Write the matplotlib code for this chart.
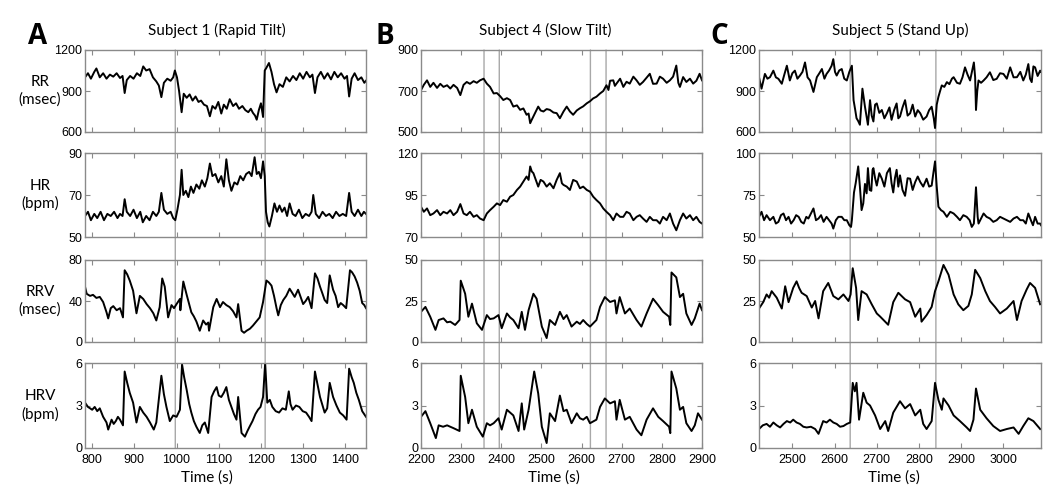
import numpy as np
import matplotlib.pyplot as plt
from matplotlib.patches import ConnectionPatch

# values: [time (s), value]

# Subject 1 (Rapid Tilt)
rr_a = [[783, 1000], [790, 1030], [797, 990], [805, 1040], [810, 1065], [818, 1000], [826, 1030],
        [834, 990], [842, 1020], [850, 1005], [858, 1030], [866, 995], [872, 1010], [877, 885],
        [882, 980], [890, 1010], [898, 990], [906, 1030], [914, 1010], [921, 1080], [928, 1050],
        [936, 1060], [944, 1000], [952, 970], [958, 940], [964, 855], [970, 960], [978, 990],
        [986, 975], [992, 1000], [996, 1050], [1001, 1000], [1006, 900], [1012, 745], [1017, 880],
        [1024, 850], [1031, 875], [1038, 830], [1045, 860], [1052, 820], [1058, 830], [1065, 800],
        [1072, 790], [1079, 715], [1085, 790], [1092, 770], [1099, 820], [1106, 735], [1112, 800],
        [1119, 770], [1126, 840], [1134, 790], [1141, 810], [1148, 770], [1156, 790], [1163, 760],
        [1170, 745], [1176, 770], [1181, 740], [1186, 720], [1190, 690], [1195, 760], [1200, 810],
        [1205, 710], [1209, 1050], [1213, 1070], [1219, 1105], [1225, 1040], [1231, 950],
        [1237, 890], [1244, 950], [1252, 930], [1260, 1000], [1268, 970], [1276, 1010],
        [1284, 980], [1292, 1030], [1300, 990], [1308, 1040], [1316, 1000], [1322, 1020],
        [1328, 885], [1334, 1000], [1342, 1040], [1350, 990], [1358, 1030], [1366, 985],
        [1374, 1040], [1382, 1000], [1390, 1030], [1398, 990], [1404, 1010], [1409, 860],
        [1415, 990], [1422, 1030], [1430, 980], [1438, 1000], [1445, 960], [1449, 975]]
hr_a = [[783, 60], [790, 62], [797, 58], [805, 61], [812, 59], [820, 62], [828, 58], [836, 61],
        [844, 60], [852, 62], [860, 59], [866, 61], [872, 60], [877, 68], [882, 62], [890, 60],
        [898, 63], [906, 59], [914, 62], [920, 57], [928, 60], [936, 58], [944, 62], [952, 60],
        [958, 62], [964, 71], [970, 63], [978, 61], [986, 62], [992, 59], [997, 58], [1002, 63],
        [1008, 70], [1012, 82], [1016, 70], [1022, 72], [1028, 69], [1034, 74], [1040, 71],
        [1047, 75], [1054, 73], [1060, 77], [1067, 74], [1073, 78], [1079, 85], [1085, 79],
        [1092, 80], [1099, 76], [1106, 79], [1112, 74], [1118, 87], [1124, 77], [1130, 72],
        [1137, 76], [1144, 75], [1151, 79], [1158, 77], [1165, 80], [1172, 81], [1178, 79],
        [1185, 88], [1190, 80], [1195, 81], [1200, 78], [1205, 86], [1209, 79], [1212, 62],
        [1216, 57], [1220, 55], [1226, 60], [1232, 66], [1238, 62], [1244, 65], [1250, 62],
        [1256, 64], [1262, 60], [1268, 66], [1275, 61], [1282, 60], [1290, 63], [1298, 59],
        [1306, 61], [1314, 60], [1320, 62], [1324, 70], [1330, 61], [1338, 59], [1346, 62],
        [1354, 60], [1362, 61], [1370, 59], [1378, 62], [1386, 60], [1394, 61], [1402, 60],
        [1409, 71], [1415, 62], [1422, 60], [1430, 63], [1438, 60], [1444, 62], [1449, 61]]
rrv_a = [[783, 54], [787, 47], [795, 45], [802, 46], [810, 43], [818, 44], [826, 39], [834, 29],
         [838, 23], [844, 33], [850, 35], [858, 31], [866, 33], [873, 24], [877, 70], [883, 66],
         [889, 60], [897, 50], [905, 28], [913, 45], [921, 42], [929, 37], [937, 33], [945, 28],
         [952, 21], [960, 34], [966, 62], [972, 54], [980, 24], [988, 36], [994, 33], [1000, 37],
         [1008, 42], [1009, 31], [1016, 59], [1024, 46], [1035, 29], [1041, 25], [1047, 20],
         [1055, 11], [1063, 21], [1070, 17], [1075, 19], [1077, 11], [1087, 34], [1095, 42],
         [1103, 34], [1110, 39], [1118, 36], [1126, 34], [1134, 30], [1142, 24], [1146, 37],
         [1154, 11], [1160, 9], [1166, 11], [1174, 13], [1181, 16], [1189, 20], [1197, 24],
         [1205, 39], [1213, 60], [1219, 58], [1225, 55], [1231, 45], [1237, 33], [1241, 26],
         [1247, 36], [1253, 41], [1260, 45], [1268, 52], [1274, 48], [1280, 44], [1288, 51],
         [1294, 44], [1300, 37], [1306, 40], [1312, 44], [1320, 33], [1328, 67], [1334, 62],
         [1340, 54], [1346, 47], [1351, 41], [1357, 38], [1363, 65], [1371, 51], [1377, 45],
         [1383, 34], [1389, 38], [1395, 36], [1402, 33], [1411, 70], [1416, 68], [1422, 64],
         [1428, 58], [1434, 50], [1440, 38], [1445, 36], [1449, 33]]
hrv_a = [[783, 3.2], [790, 2.9], [800, 2.7], [806, 2.9], [812, 2.6], [818, 2.8], [826, 2.2],
         [834, 1.8], [838, 1.3], [846, 2.0], [851, 1.7], [856, 1.9], [861, 2.2], [866, 2.0],
         [873, 1.6], [877, 5.4], [883, 4.6], [889, 3.9], [897, 3.2], [905, 1.8], [913, 2.9],
         [921, 2.5], [929, 2.2], [937, 1.8], [946, 1.3], [952, 1.8], [964, 5.1], [970, 3.8],
         [976, 2.9], [984, 1.9], [992, 2.3], [1000, 2.2], [1008, 2.7], [1013, 5.9], [1018, 5.0],
         [1024, 4.1], [1030, 3.1], [1035, 2.5], [1041, 1.9], [1047, 1.5], [1055, 1.06],
         [1061, 1.6], [1067, 1.8], [1075, 1.06], [1083, 3.6], [1089, 4.0], [1095, 4.3],
         [1100, 3.7], [1106, 3.6], [1112, 3.9], [1118, 4.3], [1124, 3.4], [1130, 2.9],
         [1136, 2.4], [1142, 2.0], [1146, 3.6], [1154, 1.06], [1162, 0.8], [1168, 1.2],
         [1173, 1.5], [1180, 1.9], [1187, 2.4], [1193, 2.7], [1199, 2.9], [1205, 3.6],
         [1210, 6.0], [1215, 3.2], [1221, 3.4], [1227, 2.9], [1235, 2.6], [1243, 2.5],
         [1251, 2.8], [1259, 2.7], [1266, 4.0], [1270, 3.1], [1275, 2.7], [1283, 3.0],
         [1291, 2.9], [1299, 2.6], [1307, 2.5], [1314, 2.2], [1320, 1.9], [1328, 5.4],
         [1334, 4.5], [1340, 3.6], [1346, 3.0], [1351, 2.5], [1357, 2.8], [1363, 4.6],
         [1371, 3.6], [1379, 3.0], [1387, 2.5], [1395, 2.3], [1403, 2.0], [1409, 5.6],
         [1415, 5.0], [1420, 4.6], [1426, 3.9], [1432, 3.4], [1440, 2.6], [1449, 2.2]]

# Subject 4 (Slow Tilt)
rr_b = [[2200, 704], [2207, 730], [2215, 752], [2223, 720], [2231, 740], [2240, 715],
        [2248, 735], [2256, 720], [2265, 728], [2273, 712], [2281, 730], [2290, 715],
        [2298, 680], [2306, 730], [2314, 744], [2322, 735], [2331, 748], [2339, 740],
        [2347, 752], [2356, 760], [2364, 736], [2372, 720], [2381, 688], [2389, 690],
        [2397, 675], [2405, 656], [2414, 665], [2422, 656], [2430, 624], [2439, 630],
        [2447, 608], [2455, 615], [2463, 584], [2468, 590], [2472, 543], [2476, 560],
        [2480, 576], [2486, 600], [2492, 624], [2498, 605], [2505, 600], [2513, 612],
        [2521, 608], [2530, 595], [2538, 592], [2546, 567], [2555, 600], [2563, 624],
        [2571, 600], [2579, 584], [2588, 605], [2596, 616], [2604, 625], [2613, 640],
        [2621, 650], [2629, 664], [2637, 672], [2646, 688], [2654, 700], [2662, 728],
        [2667, 705], [2671, 750], [2679, 752], [2683, 725], [2687, 736], [2696, 760],
        [2704, 720], [2712, 745], [2720, 736], [2729, 770], [2737, 752], [2745, 730],
        [2753, 744], [2762, 765], [2770, 784], [2778, 735], [2787, 736], [2795, 770],
        [2803, 760], [2812, 740], [2820, 752], [2828, 770], [2836, 824], [2841, 740],
        [2845, 720], [2853, 768], [2861, 744], [2870, 760], [2878, 736], [2886, 750],
        [2894, 784], [2900, 752]]
hr_b = [[2200, 88], [2207, 85], [2215, 87], [2223, 83], [2231, 84], [2240, 86], [2248, 83],
        [2256, 85], [2265, 84], [2273, 86], [2281, 83], [2290, 85], [2298, 89.6], [2306, 84],
        [2314, 83], [2322, 85], [2331, 82], [2339, 83], [2347, 81], [2356, 80], [2364, 84],
        [2372, 86], [2381, 88], [2389, 90], [2397, 89], [2405, 92], [2414, 91], [2422, 94],
        [2430, 95], [2439, 98], [2447, 100], [2455, 103], [2463, 106], [2468, 104], [2472, 112],
        [2476, 109], [2480, 108], [2486, 104], [2492, 100], [2498, 104], [2505, 103],
        [2513, 100], [2521, 102], [2530, 99], [2538, 104], [2546, 108], [2551, 102],
        [2555, 101], [2563, 100], [2571, 98], [2579, 104], [2588, 103], [2596, 99], [2604, 100],
        [2613, 98], [2621, 97], [2629, 94], [2637, 92], [2646, 90], [2654, 87], [2662, 85],
        [2671, 83], [2679, 80], [2687, 84], [2696, 82], [2704, 82], [2712, 85], [2720, 84],
        [2729, 80], [2737, 82], [2745, 83], [2753, 81], [2762, 79], [2770, 82], [2778, 80],
        [2787, 80], [2795, 78], [2803, 82], [2812, 80], [2820, 84], [2828, 78], [2836, 74],
        [2845, 80], [2853, 84], [2861, 81], [2870, 83], [2878, 80], [2886, 82], [2894, 79],
        [2900, 78]]
rrv_b = [[2200, 18.4], [2211, 21.4], [2223, 15.4], [2236, 7.4], [2244, 13.4], [2256, 14.4],
         [2265, 12.0], [2273, 12.4], [2285, 10.4], [2296, 13.4], [2299, 37.4], [2310, 29.4],
         [2318, 15.4], [2327, 23.4], [2339, 11.4], [2352, 7.4], [2364, 16.4], [2372, 14.0],
         [2381, 14.4], [2393, 16.4], [2401, 8.4], [2414, 17.4], [2422, 15.0], [2430, 13.4],
         [2443, 8.4], [2451, 18.4], [2459, 7.4], [2468, 19.4], [2480, 29.4], [2488, 26.4],
         [2501, 9.4], [2513, 2.4], [2521, 13.4], [2534, 10.4], [2546, 18.4], [2555, 14.0],
         [2563, 16.4], [2575, 9.4], [2588, 12.4], [2596, 11.0], [2604, 13.4], [2613, 11.0],
         [2621, 9.4], [2637, 13.4], [2646, 21.4], [2658, 27.4], [2671, 24.4], [2683, 25.4],
         [2687, 17.4], [2695, 27.4], [2708, 17.4], [2720, 20.4], [2737, 13.4], [2749, 9.4],
         [2762, 17.4], [2778, 26.4], [2791, 22.4], [2803, 18.4], [2818, 15.4], [2821, 10.4],
         [2824, 42.4], [2836, 39.4], [2845, 27.4], [2853, 29.4], [2861, 17.4], [2874, 10.4],
         [2882, 14.4], [2894, 23.4], [2900, 19.4]]
hrv_b = [[2200, 2.2], [2211, 2.6], [2223, 1.75], [2237, 0.7], [2244, 1.6], [2255, 1.5],
         [2265, 1.6], [2281, 1.4], [2296, 1.2], [2299, 5.1], [2310, 3.6], [2318, 1.75],
         [2327, 2.7], [2339, 1.5], [2354, 0.8], [2364, 1.75], [2372, 1.6], [2381, 1.75],
         [2393, 2.1], [2401, 1.3], [2414, 2.7], [2430, 2.3], [2443, 1.2], [2451, 3.15],
         [2457, 1.3], [2468, 2.7], [2482, 5.4], [2492, 3.85], [2501, 1.5], [2513, 0.35],
         [2521, 2.45], [2534, 1.9], [2546, 3.7], [2555, 2.6], [2563, 2.7], [2575, 1.75],
         [2588, 2.45], [2596, 2.1], [2604, 2.0], [2613, 2.2], [2621, 1.75], [2637, 2.0],
         [2646, 2.9], [2658, 3.5], [2671, 3.15], [2683, 3.3], [2687, 2.0], [2695, 3.4],
         [2708, 2.0], [2720, 2.2], [2737, 1.3], [2749, 0.9], [2762, 2.0], [2778, 2.8],
         [2791, 2.2], [2803, 1.9], [2818, 1.5], [2821, 1.05], [2824, 5.4], [2836, 4.2],
         [2845, 2.7], [2853, 2.9], [2861, 1.75], [2874, 1.2], [2882, 1.6], [2890, 2.45],
         [2900, 2.0]]

# Subject 5 (Stand Up)
rr_c = [[2421, 1001], [2427, 917], [2435, 1025], [2441, 990], [2447, 1001], [2455, 1049],
        [2461, 1000], [2467, 989], [2475, 953], [2481, 1020], [2487, 1085], [2494, 977],
        [2500, 1030], [2506, 1049], [2512, 990], [2518, 1013], [2524, 1040], [2530, 1109],
        [2536, 1000], [2542, 977], [2550, 893], [2558, 1001], [2564, 1030], [2570, 1061],
        [2576, 990], [2581, 1025], [2587, 1050], [2593, 1085], [2597, 1133], [2601, 1040],
        [2605, 1013], [2611, 1050], [2617, 1061], [2623, 990], [2629, 977], [2635, 1040],
        [2641, 1085], [2645, 833], [2649, 760], [2652, 701], [2656, 680], [2660, 653],
        [2666, 917], [2672, 785], [2679, 653], [2684, 833], [2688, 720], [2692, 677],
        [2696, 800], [2700, 809], [2706, 740], [2712, 761], [2718, 700], [2724, 737],
        [2730, 780], [2735, 689], [2741, 760], [2747, 809], [2751, 700], [2755, 713],
        [2761, 780], [2767, 833], [2773, 720], [2779, 737], [2785, 800], [2791, 713],
        [2797, 760], [2803, 737], [2810, 690], [2818, 713], [2824, 760], [2830, 785],
        [2835, 700], [2838, 629], [2842, 800], [2846, 857], [2850, 900], [2854, 941],
        [2860, 930], [2866, 965], [2872, 950], [2878, 990], [2882, 1001], [2890, 960],
        [2897, 953], [2903, 1000], [2909, 1073], [2915, 1020], [2921, 977], [2926, 1050],
        [2930, 1109], [2933, 1000], [2935, 761], [2938, 900], [2941, 977], [2947, 960],
        [2953, 977], [2960, 1000], [2968, 1037], [2976, 980], [2984, 989], [2992, 1030],
        [3000, 1025], [3008, 990], [3016, 1073], [3024, 1000], [3032, 1001], [3040, 1040],
        [3047, 977], [3053, 1020], [3059, 1097], [3063, 990], [3067, 965], [3071, 1080],
        [3075, 1073], [3081, 1010], [3087, 1049], [3089, 1040]]
hr_c = [[2421, 62], [2427, 65], [2433, 60], [2439, 63], [2447, 60], [2455, 62], [2461, 58],
        [2467, 59], [2473, 63], [2479, 64], [2485, 60], [2491, 62], [2497, 58], [2503, 60],
        [2509, 63], [2515, 62], [2521, 59], [2527, 58], [2533, 62], [2538, 61], [2544, 64],
        [2550, 67], [2556, 60], [2562, 61], [2568, 63], [2574, 59], [2581, 62], [2587, 60],
        [2593, 58], [2597, 55], [2603, 60], [2609, 62], [2617, 62], [2623, 60], [2629, 60],
        [2635, 57], [2639, 56], [2641, 60], [2646, 76.5], [2650, 82], [2656, 92], [2660, 80],
        [2664, 66], [2668, 70], [2672, 81.6], [2676, 76], [2679, 91], [2683, 78], [2687, 77.5],
        [2690, 90], [2692, 91], [2696, 85], [2700, 80.6], [2706, 88], [2712, 84.7], [2718, 80],
        [2724, 88], [2731, 91], [2735, 82], [2739, 76.5], [2743, 85], [2747, 90], [2751, 80],
        [2755, 86.7], [2761, 78], [2767, 74.5], [2773, 85], [2779, 84.7], [2785, 78],
        [2791, 82.7], [2797, 86], [2803, 82.7], [2810, 80], [2818, 84.7], [2824, 80],
        [2830, 80.6], [2834, 88], [2838, 95], [2842, 80], [2846, 68], [2852, 66], [2858, 65],
        [2866, 62], [2874, 65], [2882, 64], [2890, 62], [2897, 60], [2905, 63], [2913, 62],
        [2920, 60], [2925, 56], [2930, 58], [2935, 79.6], [2939, 62], [2941, 58], [2947, 61],
        [2953, 64], [2960, 62], [2968, 61], [2976, 59], [2984, 60], [2992, 62], [3000, 61],
        [3008, 60], [3016, 59], [3024, 61], [3032, 62], [3040, 60], [3047, 60], [3053, 58],
        [3059, 64], [3065, 60], [3070, 57], [3075, 62], [3081, 58], [3087, 58], [3089, 57]]
rrv_c = [[2421, 20.4], [2431, 24.3], [2439, 29], [2445, 27], [2451, 31], [2457, 29], [2463, 27],
         [2475, 20.4], [2483, 34], [2491, 24.3], [2502, 33], [2510, 37], [2516, 33], [2522, 30],
         [2534, 28], [2546, 21], [2554, 25], [2562, 14.4], [2573, 31], [2585, 36], [2591, 32],
         [2597, 28], [2609, 26], [2621, 29], [2633, 25], [2638, 29], [2643, 45], [2651, 33],
         [2656, 13.4], [2664, 31], [2676, 29], [2688, 23], [2700, 17.4], [2708, 15.5],
         [2716, 13.4], [2727, 10.5], [2739, 24.3], [2751, 30], [2767, 26], [2779, 24.3],
         [2791, 15.4], [2803, 20.4], [2806, 12.4], [2818, 16.4], [2830, 21.4], [2838, 31],
         [2846, 37], [2858, 47], [2870, 41], [2882, 29], [2893, 23], [2905, 19.4], [2917, 22],
         [2925, 29], [2933, 44], [2945, 39], [2957, 31], [2968, 25], [2980, 21.4], [2992, 17.4],
         [3008, 20.4], [3024, 25], [3032, 13.4], [3043, 25], [3055, 32], [3063, 36], [3075, 33],
         [3087, 23]]
hrv_c = [[2421, 1.34], [2430, 1.6], [2439, 1.7], [2447, 1.5], [2455, 1.8], [2463, 1.6],
         [2471, 1.45], [2479, 1.7], [2487, 1.9], [2495, 1.8], [2502, 2.0], [2510, 1.8],
         [2518, 1.7], [2526, 1.5], [2534, 1.45], [2544, 1.5], [2554, 1.34], [2562, 1.0],
         [2573, 1.9], [2581, 1.8], [2589, 2.0], [2597, 1.8], [2605, 1.7], [2613, 1.5],
         [2621, 1.55], [2629, 1.7], [2637, 1.8], [2643, 4.6], [2648, 4.0], [2652, 4.6],
         [2658, 2.0], [2668, 3.9], [2676, 3.2], [2684, 3.0], [2696, 2.3], [2708, 1.34],
         [2720, 1.9], [2727, 1.2], [2739, 2.5], [2755, 3.3], [2767, 2.8], [2779, 3.1],
         [2791, 2.3], [2803, 2.7], [2810, 1.7], [2818, 1.34], [2830, 1.9], [2838, 4.6],
         [2846, 3.4], [2854, 2.7], [2858, 3.5], [2870, 3.0], [2882, 2.3], [2897, 1.9],
         [2913, 1.45], [2921, 1.2], [2929, 2.0], [2935, 4.2], [2945, 2.7], [2960, 2.1],
         [2976, 1.55], [2992, 1.2], [3008, 1.34], [3024, 1.45], [3036, 1.0], [3047, 1.55],
         [3059, 2.1], [3071, 1.9], [3087, 1.34]]

titles = ["Subject 1 (Rapid Tilt)", "Subject 4 (Slow Tilt)", "Subject 5 (Stand Up)"]
letters = ["A", "B", "C"]
row_labels = ["RR\n(msec)", "HR\n(bpm)", "RRV\n(msec)", "HRV\n(bpm)"]
series = [[rr_a, hr_a, rrv_a, hrv_a],
          [rr_b, hr_b, rrv_b, hrv_b],
          [rr_c, hr_c, rrv_c, hrv_c]]
xlims = [(783, 1449), (2200, 2900), (2421, 3089)]
xticks = [[800, 900, 1000, 1100, 1200, 1300, 1400],
          [2200, 2300, 2400, 2500, 2600, 2700, 2800, 2900],
          [2500, 2600, 2700, 2800, 2900, 3000]]
yticks = [[[600, 900, 1200], [50, 70, 90], [0, 40, 80], [0, 3, 6]],
          [[500, 700, 900], [70, 95, 120], [0, 25, 50], [0, 3, 6]],
          [[600, 900, 1200], [50, 75, 100], [0, 25, 50], [0, 3, 6]]]
events = [[997, 1210], [2357, 2395, 2622, 2661], [2637, 2840]]

W, H = 1050, 495
lefts = [85, 421, 759]
rights = [366, 702, 1041]
rows = [(50, 132), (153, 237), (260, 342), (363, 448)]
title_x = [217, 545, 900]
letter_x = [38, 385, 719]
timelab_x = [207, 554, 894]

frame = "#8a8a8a"
label_font = ["Lato", "DejaVu Sans"]
plt.rcParams["font.family"] = ["Liberation Sans", "DejaVu Sans"]

fig = plt.figure(figsize=(W / 100, H / 100), dpi=100)

for p in range(3):
    axes = []
    for r, (top, bot) in enumerate(rows):
        ax = fig.add_axes([lefts[p] / W, 1 - bot / H, (rights[p] - lefts[p]) / W, (bot - top) / H])
        ax.patch.set_visible(False)  # let the event lines show through
        t, v = np.array(series[p][r]).T
        ax.plot(t, v, color="black", lw=1.4)
        ax.set_xlim(xlims[p])
        ax.set_ylim(yticks[p][r][0], yticks[p][r][-1])
        ax.set_yticks(yticks[p][r])
        ax.set_xticks(xticks[p])
        ax.tick_params(direction="in", length=3.5, width=0.8, color=frame,
                       top=True, right=True, labelsize=9, pad=2)
        ax.tick_params(axis="x", pad=4)
        if r < 3:
            ax.tick_params(labelbottom=False)
        for s in ax.spines.values():
            s.set_color(frame)
            s.set_linewidth(1.0)
        if p == 0:
            fig.text(40 / W, 1 - (top + bot) / 2 / H, row_labels[r], ha="center", va="center",
                     fontsize=11, family=label_font, linespacing=1.25)
        axes.append(ax)

    # event markers spanning all four rows
    for x in events[p]:
        con = ConnectionPatch(xyA=(x, axes[0].get_ylim()[1]), coordsA=axes[0].transData,
                              xyB=(x, axes[3].get_ylim()[0]), coordsB=axes[3].transData,
                              color="#a8a8a8", lw=1.0, zorder=-1)
        fig.add_artist(con)

    fig.text(title_x[p] / W, 1 - 30 / H, titles[p], ha="center", va="center",
             fontsize=11, family=label_font)
    fig.text(letter_x[p] / W, 1 - 36 / H, letters[p], ha="center", va="center",
             fontsize=20, fontweight="bold", family=["Open Sans", "DejaVu Sans"])
    fig.text(timelab_x[p] / W, 1 - 478 / H, "Time (s)", ha="center", va="center",
             fontsize=11, family=label_font)

fig.savefig("out.png", dpi=100, facecolor="white")
